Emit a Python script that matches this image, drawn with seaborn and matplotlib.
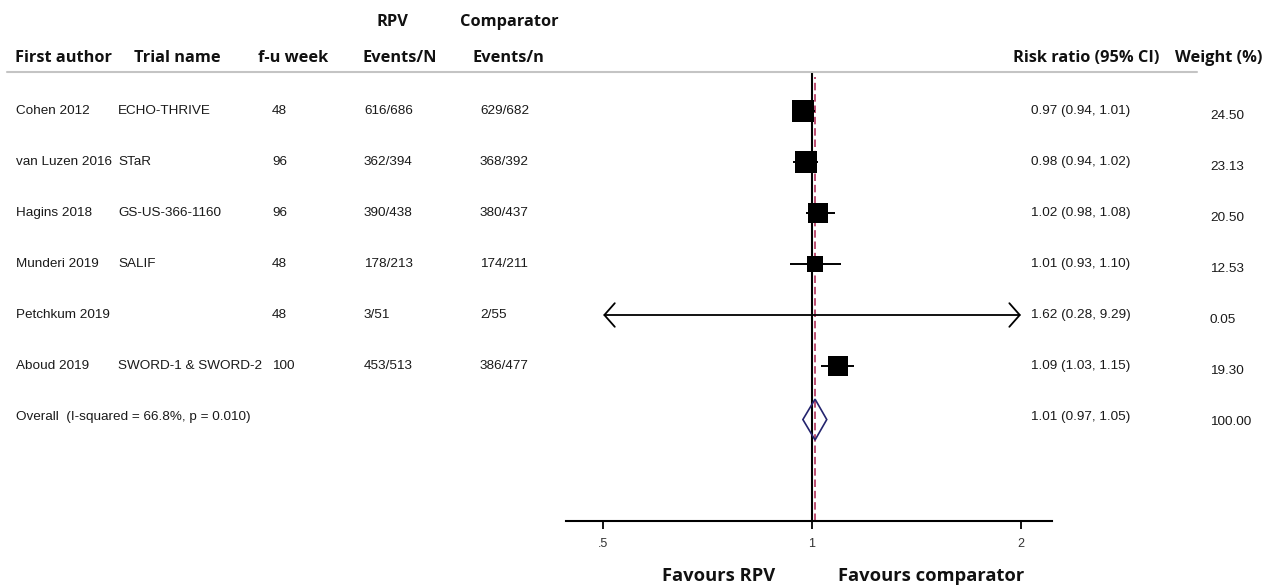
import matplotlib
matplotlib.use("Agg")
import matplotlib.pyplot as plt
import matplotlib.transforms as mtransforms
from matplotlib.lines import Line2D
import pandas as pd
import seaborn as sns

# ---- study data -------------------------------------------------------------
authors = ["Cohen 2012", "van Luzen 2016", "Hagins 2018", "Munderi 2019",
           "Petchkum 2019", "Aboud 2019"]
trials = ["ECHO-THRIVE", "STaR", "GS-US-366-1160", "SALIF", "",
          "SWORD-1 & SWORD-2"]
followup = ["48", "96", "96", "48", "48", "100"]
rpv_events = ["616/686", "362/394", "390/438", "178/213", "3/51", "453/513"]
comp_events = ["629/682", "368/392", "380/437", "174/211", "2/55", "386/477"]
rr = [0.97, 0.98, 1.02, 1.01, 1.62, 1.09]
ci_low = [0.94, 0.94, 0.98, 0.93, 0.28, 1.03]
ci_high = [1.01, 1.02, 1.08, 1.10, 9.29, 1.15]
weights = [24.50, 23.13, 20.50, 12.53, 0.05, 19.30]

overall_label = "Overall  (I-squared = 66.8%, p = 0.010)"
overall_rr = 1.01
overall_low = 0.97
overall_high = 1.05
overall_weight = 100.00

xticks = [0.5, 1, 2]
xtick_labels = [".5", "1", "2"]
axis_min, axis_max = 0.5, 2.0

# ---- figure ------------------------------------------------------------------
W, H = 1278, 588
sns.set_style("white")
plt.rcParams["font.family"] = ["Liberation Sans", "DejaVu Sans"]

fig = plt.figure(figsize=(W / 100, H / 100), dpi=100)
fig.patch.set_facecolor("white")

ax_left, ax_right, ax_top, ax_bottom = 566, 1052, 72, 521
ax = fig.add_axes([ax_left / W, 1 - ax_bottom / H,
                   (ax_right - ax_left) / W, (ax_bottom - ax_top) / H])

row0_px, row_step = 111, 51.0
n = len(authors)
rows = list(range(n))
overall_row = n

df = pd.DataFrame({"rr": rr, "row": rows, "weight": weights})

# study squares, area proportional to weight
sns.scatterplot(data=df, x="rr", y="row", size="weight",
                sizes={w: 10.24 * w for w in weights},
                marker="s", color="black", linewidth=0, legend=False,
                ax=ax, zorder=4)

# confidence intervals, arrows where they run past the axis range
for r, lo, hi in zip(rows, ci_low, ci_high):
    lo_c, hi_c = max(lo, axis_min), min(hi, axis_max)
    if lo < axis_min or hi > axis_max:
        style = ("<" if lo < axis_min else "") + "-" + (">" if hi > axis_max else "")
        ax.annotate("", xy=(hi_c, r), xytext=(lo_c, r),
                    arrowprops=dict(arrowstyle=f"{style},head_length=0.75,head_width=0.85",
                                    color="black", lw=1.3, shrinkA=0, shrinkB=0),
                    zorder=3)
    else:
        ax.hlines(r, lo_c, hi_c, color="black", lw=1.4, zorder=3)

# null line and pooled estimate line
ax.axvline(1, color="black", lw=1.5, zorder=2)
ax.axvline(overall_rr, ymax=(ax_bottom - 77) / (ax_bottom - ax_top),
           color="#b0305a", lw=1.2, ls=(0, (4.5, 2.3)), zorder=2)

# pooled diamond
dh = 0.4
yc = overall_row + 0.05
ax.fill([overall_low, overall_rr, overall_high, overall_rr],
        [yc, yc - dh, yc, yc + dh],
        facecolor="none", edgecolor="#24246e", lw=1.2, zorder=5)

ax.set_xscale("log")
ax.set_xlim(0.442, 2.217)
ax.set_ylim((ax_bottom - row0_px) / row_step, (ax_top - row0_px) / row_step)
ax.set_xticks(xticks)
ax.set_xticklabels(xtick_labels)
ax.xaxis.set_minor_locator(matplotlib.ticker.NullLocator())
ax.set_yticks([])
ax.set_xlabel("")
ax.set_ylabel("")
for side in ["top", "right", "left"]:
    ax.spines[side].set_visible(False)
ax.spines["bottom"].set_color("black")
ax.spines["bottom"].set_linewidth(1.5)
ax.tick_params(axis="x", direction="out", length=6, width=1.3, color="black",
               labelsize=9, labelcolor="#333333", pad=6, bottom=True)
ax.set_facecolor("none")

# ---- text columns ------------------------------------------------------------
trans = mtransforms.blended_transform_factory(fig.transFigure, ax.transData)
body = dict(fontsize=9.7, color="#1a1a1a", va="center", ha="left",
            transform=trans, clip_on=False)

for r in rows:
    fig.text(16 / W, r, authors[r], **body)
    fig.text(118 / W, r, trials[r], **body)
    fig.text(272 / W, r, followup[r], **body)
    fig.text(364 / W, r, rpv_events[r], **body)
    fig.text(480 / W, r, comp_events[r], **body)
    fig.text(1031 / W, r, f"{rr[r]:.2f} ({ci_low[r]:.2f}, {ci_high[r]:.2f})", **body)
    fig.text(1210 / W, r + 0.1, f"{weights[r]:.2f}", **body)

fig.text(16 / W, overall_row, overall_label, **body)
fig.text(1031 / W, overall_row,
         f"{overall_rr:.2f} ({overall_low:.2f}, {overall_high:.2f})", **body)
fig.text(1210 / W, overall_row + 0.1, f"{overall_weight:.2f}", **body)

# ---- headers -----------------------------------------------------------------
head = dict(fontsize=11.8, fontweight="bold", color="#111111", va="center",
            family=["Open Sans", "DejaVu Sans"])
y1, y2 = 1 - 22 / H, 1 - 58 / H
fig.text(392 / W, y1, "RPV", ha="center", **head)
fig.text(509 / W, y1, "Comparator", ha="center", **head)
fig.text(15 / W, y2, "First author", ha="left", **head)
fig.text(134 / W, y2, "Trial name", ha="left", **head)
fig.text(258 / W, y2, "f-u week", ha="left", **head)
fig.text(362 / W, y2, "Events/N", ha="left", **head)
fig.text(472 / W, y2, "Events/n", ha="left", **head)
fig.text(1013 / W, y2, "Risk ratio (95% CI)", ha="left", **head)
fig.text(1175 / W, y2, "Weight (%)", ha="left", **head)

fig.add_artist(Line2D([7 / W, 1197 / W], [1 - 72 / H, 1 - 72 / H],
                      color="#c4c4c4", lw=1.5, transform=fig.transFigure))

foot = dict(head, fontsize=13.2)
fig.text(719 / W, 1 - 576 / H, "Favours RPV", ha="center", **foot)
fig.text(931 / W, 1 - 576 / H, "Favours comparator", ha="center", **foot)

fig.savefig("out.png", dpi=100, facecolor="white")
